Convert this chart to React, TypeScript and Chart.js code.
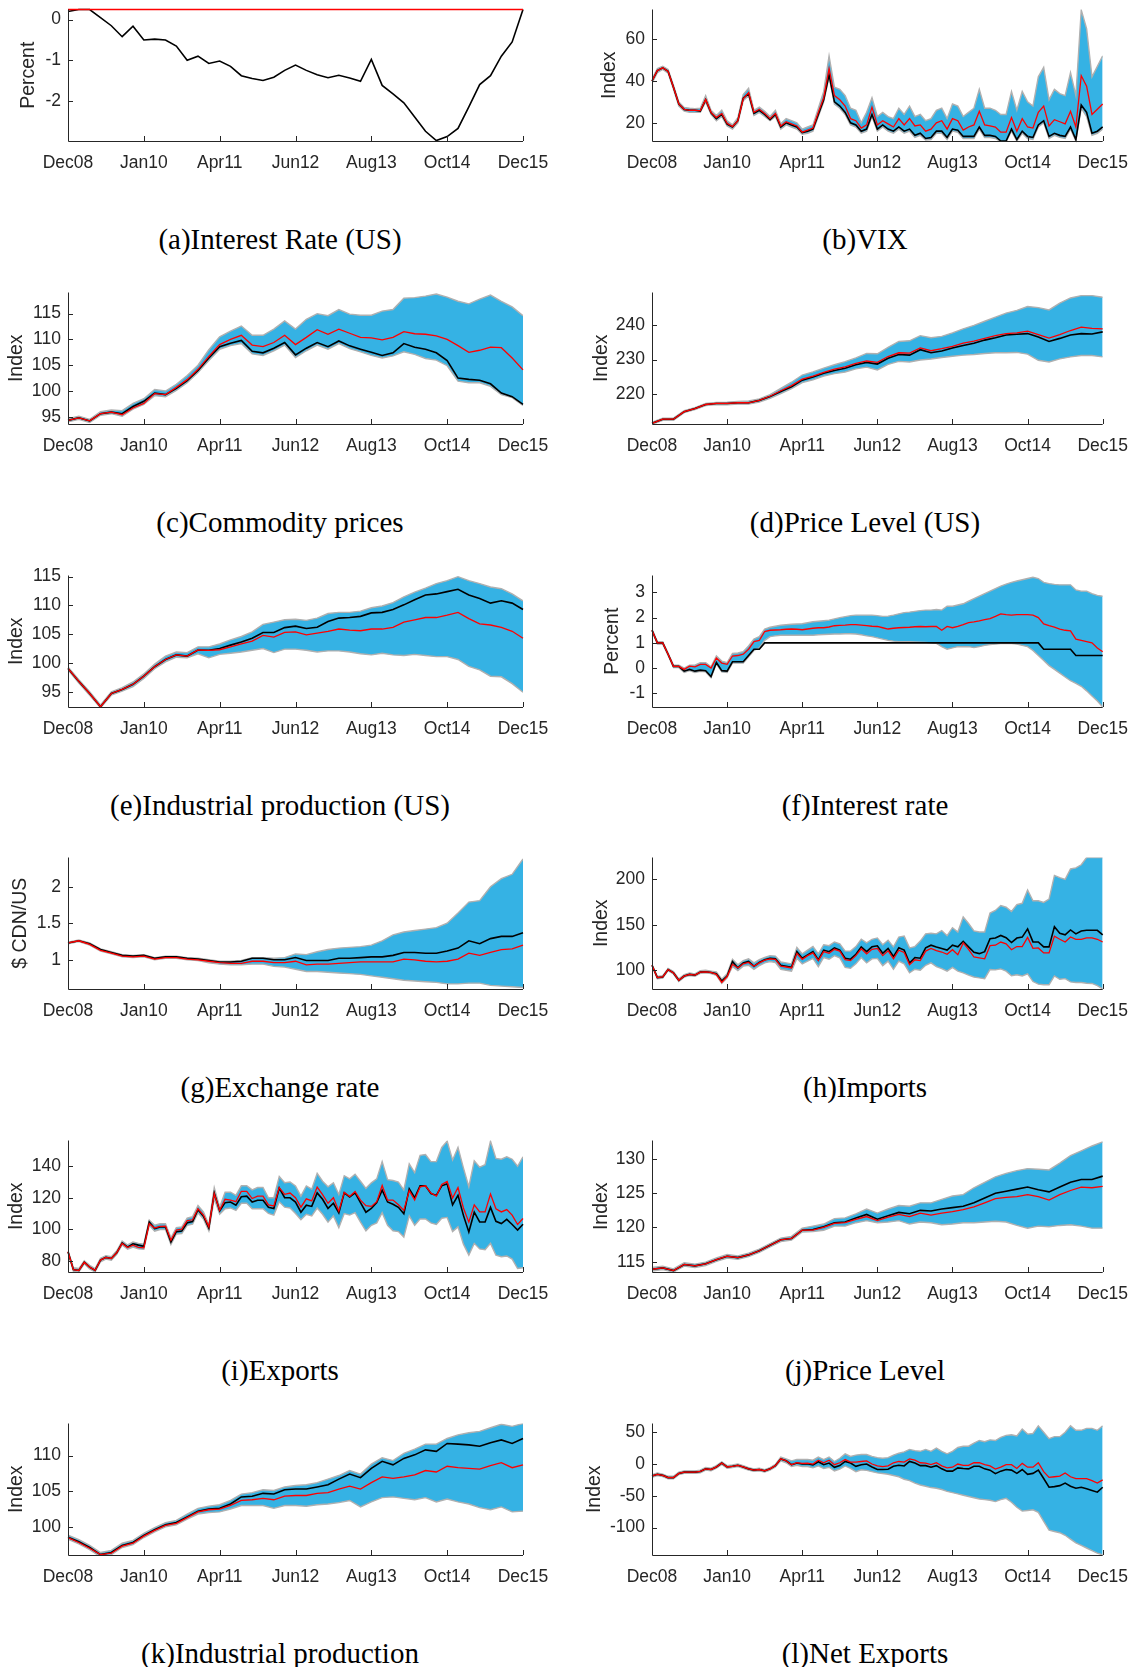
import { useEffect, useRef } from 'react'
import { Chart, registerables } from 'chart.js'

Chart.register(...registerables)

const INK = '#262626'
const BAND = '#35b2e4'
const EDGE = '#b0b0b0'
const SANS = "'Liberation Sans', Arial, Helvetica, sans-serif"

const xTickMonths = [0, 14, 28, 42, 56, 70, 84]
const xTickLabels = ['Dec08', 'Jan10', 'Apr11', 'Jun12', 'Aug13', 'Oct14', 'Dec15']

// (a) Interest Rate (US), every 2 months
const rateUsBlack = [0.2, 0.25, 0.25, 0.05, -0.15, -0.42, -0.16, -0.5, -0.48, -0.5, -0.65, -1.0, -0.9, -1.08, -1.02, -1.15, -1.38, -1.45, -1.5, -1.42, -1.25, -1.12, -1.25, -1.36, -1.43, -1.37, -1.44, -1.52, -0.98, -1.62, -1.83, -2.05, -2.4, -2.75, -2.98, -2.88, -2.68, -2.15, -1.6, -1.38, -0.9, -0.55, 0.25]
const rateUsRed = [0.25, 0.25, 0.25, 0.25, 0.25, 0.25, 0.25, 0.25, 0.25, 0.25, 0.25, 0.25, 0.25, 0.25, 0.25, 0.25, 0.25, 0.25, 0.25, 0.25, 0.25, 0.25, 0.25, 0.25, 0.25, 0.25, 0.25, 0.25, 0.25, 0.25, 0.25, 0.25, 0.25, 0.25, 0.25, 0.25, 0.25, 0.25, 0.25, 0.25, 0.25, 0.25, 0.25]

// (b) VIX, monthly
const vixBlack = [
  40, 45, 46.3, 44.6, 37, 29, 26.4, 26, 26, 25.6,
  31, 24.8, 22, 24, 19.4, 18, 21, 31.8, 34, 24.5,
  26, 24, 21.5, 24, 18, 20, 19, 18, 15.3, 16,
  17, 24, 31, 43, 30, 28, 25, 20, 19, 16,
  17, 24, 17, 19, 17, 16, 18, 16, 17, 14,
  15, 12.5, 13, 16, 16, 13, 17, 16.5, 13.5, 13.5,
  13.5, 18, 14, 14, 13.5, 11.3, 11.3, 17, 12, 16,
  13.5, 13, 19, 21, 13.5, 15, 14, 13.5, 18, 12,
  28.5, 25, 15, 16, 18,
]
const vixRed = [
  40, 45, 46.3, 44.6, 37, 29, 26.4, 26, 26, 25.8,
  31.2, 25, 22.5, 24.5, 19.8, 18.2, 21, 31.5, 34.5, 25,
  26.5, 24.5, 22, 24.5, 18.5, 20.5, 19.5, 18.5, 15.5, 16.5,
  17.5, 25, 32, 46, 33, 31, 28, 22, 21, 17.5,
  19, 27.5, 19, 21, 19.5, 18, 22, 19, 22, 18.5,
  19, 16, 17, 20, 21, 17, 22, 21, 16.5, 18,
  19, 25.5, 19, 18.5, 18, 15.5, 15.5, 22.5, 16, 22,
  18, 17.5, 25, 28, 18.5, 21.5, 20.5, 19.5, 25.5, 18,
  42.5, 37.5, 24, 26.5, 29,
]
const vixHigh = [
  41, 46, 47, 45.5, 38, 30, 27.3, 27, 26.8, 27,
  33, 26, 23.5, 26, 21, 19, 22.5, 33.5, 36.5, 26,
  27.5, 25.5, 23, 26, 19.5, 22, 21, 20, 17, 18,
  19, 27, 35, 52, 37, 36, 33, 27, 26, 20,
  25, 32, 23, 25, 23, 22, 27, 24, 28, 23,
  24, 21, 22, 26, 27, 22, 29, 28, 23, 25,
  27, 36, 27, 27, 26, 24, 24, 35, 26, 35,
  30, 28, 42, 46.5, 31, 36, 34, 33, 44, 33,
  74, 65, 42, 47, 52,
]
const vixLow = [
  39, 44, 45.5, 43.8, 36, 28, 25.6, 25, 25, 25,
  30, 24, 21, 23, 18.5, 17, 20, 30.5, 33, 23.5,
  25, 23, 21, 23, 17, 19, 18, 17, 14.5, 15,
  16, 23, 30, 42, 29, 27, 24, 19, 18, 15,
  16, 23, 16, 18, 16, 15, 17, 15, 16, 13,
  14, 11.8, 12, 15, 15, 12, 16, 15.5, 12.5, 12.5,
  12.5, 17, 13, 13, 12.5, 11, 11, 16, 11.3, 15,
  12.5, 12, 18, 20, 12.5, 14, 13, 12.5, 17, 11.3,
  27, 23, 14, 15, 17,
]

// (c) Commodity prices, every 2 months
const commBlack = [94.3, 94.8, 94.2, 95.6, 95.9, 95.6, 97, 98, 99.6, 99.3, 100.5, 102, 104, 106.4, 108.6, 109.25, 109.8, 107.7, 107.4, 108.3, 109.4, 107, 108.3, 109.4, 108.6, 109.7, 108.75, 108.1, 107.5, 106.9, 107.4, 109.2, 108.5, 108.1, 107.4, 105.9, 102.5, 102.25, 102.1, 101.4, 99.6, 98.9, 97.4]
const commRed = [94.3, 94.8, 94.2, 95.6, 95.9, 95.4, 96.7, 97.6, 99.5, 99.3, 100.7, 102.2, 104.2, 106.7, 109, 110, 110.8, 108.9, 108.6, 109.4, 110.8, 109, 110.4, 111.9, 111, 112, 111.2, 110.4, 110.3, 109.9, 110.4, 111.5, 111.1, 111, 110.7, 110, 108.8, 107.5, 107.9, 108.5, 108.4, 106.4, 104.1]
const commHigh = [94.6, 95.1, 94.5, 96, 96.3, 96.2, 97.6, 98.5, 100.3, 100, 101.3, 103, 105, 108, 110.5, 111.6, 112.6, 110.8, 110.8, 112, 113.6, 112, 113.9, 115, 114.6, 115.8, 114.9, 114.7, 114.7, 115.5, 115.8, 118, 118.1, 118.4, 118.8, 118.2, 117.4, 116.9, 117.8, 118.6, 117.4, 116.3, 114.6]
const commLow = [94, 94.5, 93.9, 95.3, 95.6, 95.1, 96.5, 97.4, 99.1, 98.9, 100.1, 101.6, 103.6, 105.9, 108.1, 108.8, 109.2, 107.2, 106.9, 107.8, 108.9, 106.5, 107.8, 108.9, 108.1, 109.2, 108.2, 107.6, 106.9, 106.4, 106.8, 107.6, 107.1, 106.3, 106, 104.9, 101.9, 101.6, 101.6, 100.9, 99.3, 98.7, 97.2]

// (d) Price Level (US), every 2 months
const cpiUsBlack = [211.4, 212.6, 212.6, 214.8, 215.7, 216.9, 217.2, 217.2, 217.4, 217.4, 218.1, 219.2, 220.7, 222.1, 224, 224.9, 226, 226.8, 227.5, 228.5, 229.2, 228.7, 230.4, 231.5, 231.3, 232.9, 232, 232.5, 233.4, 234.1, 234.8, 235.7, 236.4, 237.2, 237.4, 237.6, 236.6, 235.3, 236.2, 237.2, 237.6, 237.5, 238.1]
const cpiUsRed = [211.4, 212.6, 212.6, 214.8, 215.7, 216.9, 217.2, 217.2, 217.4, 217.4, 218.1, 219.3, 220.9, 222.4, 224.3, 225.2, 226.3, 227.2, 227.9, 228.9, 229.6, 229.2, 230.9, 232, 231.9, 233.4, 232.6, 233.2, 233.9, 234.8, 235.4, 236.2, 237, 237.6, 237.8, 238.3, 237.3, 236.3, 237.3, 238.5, 239.5, 239.1, 239]
const cpiUsHigh = [211.7, 212.9, 212.9, 215.1, 216, 217.2, 217.5, 217.6, 217.8, 217.9, 218.5, 219.8, 221.6, 223.4, 225.5, 226.4, 227.5, 228.5, 229.4, 230.5, 231.8, 231.7, 233.6, 235.3, 235.5, 237, 236.4, 236.8, 237.8, 239, 240, 241.2, 242.4, 243.6, 244.4, 245.5, 245.2, 244.5, 246.5, 248, 248.7, 248.7, 248.2]
const cpiUsLow = [211.1, 212.3, 212.3, 214.5, 215.4, 216.6, 216.9, 216.8, 217, 217, 217.6, 218.7, 220.1, 221.5, 223.3, 224.1, 225.2, 225.9, 226.4, 227.3, 227.8, 227, 228.6, 229.5, 229.3, 229.9, 230.2, 230.6, 231, 231.3, 231.5, 231.8, 232, 232, 232.1, 231.6, 229.8, 229.3, 230.2, 230.8, 231.2, 231.2, 230.8]

// (e) Industrial production (US), every 2 months
const ipUsBlack = [99.05, 96.8, 94.7, 92.4, 94.7, 95.4, 96.3, 97.7, 99.35, 100.6, 101.4, 101.2, 102.25, 102.2, 102.5, 103.1, 103.65, 104.3, 105.3, 105.3, 106.15, 106.4, 106, 106.2, 107.2, 107.8, 107.9, 108.1, 108.7, 108.8, 109.3, 110.1, 111, 111.8, 112, 112.4, 112.8, 111.8, 111.2, 110.4, 110.8, 110.4, 109.3]
const ipUsRed = [99.05, 96.8, 94.7, 92.4, 94.7, 95.4, 96.3, 97.7, 99.35, 100.6, 101.4, 101.2, 102.25, 102.2, 102.3, 102.8, 103.3, 103.8, 104.8, 104.5, 105.3, 105.4, 104.9, 105.2, 105.5, 105.9, 105.7, 105.6, 105.9, 105.9, 106.2, 107.1, 107.5, 107.9, 107.9, 108.3, 108.8, 107.7, 106.8, 106.6, 106.2, 105.5, 104.3]
const ipUsHigh = [99.3, 97.1, 95, 92.7, 95, 95.7, 96.7, 98.1, 99.8, 101.2, 101.9, 101.8, 102.8, 102.8, 103.3, 104, 104.6, 105.4, 106.7, 107.1, 107.5, 107.6, 107.4, 107.8, 108.6, 108.8, 108.8, 109, 109.6, 109.9, 110.5, 111.5, 112.3, 113, 113.8, 114.3, 115, 114.3, 113.8, 113.2, 112.9, 112, 110.8]
const ipUsLow = [98.8, 96.5, 94.4, 92.2, 94.4, 95.1, 95.9, 97.3, 99, 100.2, 101, 100.9, 101.6, 100.9, 101.5, 101.7, 101.9, 102.2, 102.5, 101.8, 102.4, 102.4, 102.2, 101.9, 102.1, 102.1, 101.9, 101.6, 101.4, 101.7, 101.4, 101.3, 101.5, 101.3, 101.1, 101.1, 100.6, 99.4, 98.8, 97.7, 97.6, 96.4, 94.9]

// (f) Interest rate, monthly
const rateCaBlack = [
  1.5, 1, 1, 0.55, 0.07, 0.07, -0.12, -0.05, -0.12, -0.08,
  -0.1, -0.33, 0.22, -0.1, -0.12, 0.25, 0.25, 0.25, 0.5, 0.75,
  0.75, 1, 1, 1, 1, 1, 1, 1, 1, 1,
  1, 1, 1, 1, 1, 1, 1, 1, 1, 1,
  1, 1, 1, 1, 1, 1, 1, 1, 1, 1,
  1, 1, 1, 1, 1, 1, 1, 1, 1, 1,
  1, 1, 1, 1, 1, 1, 1, 1, 1, 1,
  1, 1, 1, 0.75, 0.75, 0.75, 0.75, 0.75, 0.75, 0.5,
  0.5, 0.5, 0.5, 0.5, 0.5,
]
const rateCaRed = [
  1.5, 1, 1, 0.55, 0.07, 0.07, -0.05, 0.08, 0.05, 0.15,
  0.15, 0, 0.4, 0.2, 0.15, 0.48, 0.5, 0.55, 0.75, 1.05,
  1.1, 1.45, 1.5, 1.51, 1.52, 1.54, 1.55, 1.54, 1.52, 1.55,
  1.58, 1.6, 1.6, 1.63, 1.68, 1.69, 1.7, 1.72, 1.72, 1.7,
  1.68, 1.66, 1.65, 1.6, 1.55, 1.58, 1.6, 1.61, 1.62, 1.64,
  1.65, 1.64, 1.65, 1.65, 1.5, 1.65, 1.6, 1.65, 1.72, 1.8,
  1.83, 1.87, 1.92, 1.96, 2.05, 2.15, 2.12, 2.1, 2.12, 2.12,
  2.12, 2.1, 2, 1.75, 1.68, 1.62, 1.55, 1.5, 1.48, 1.15,
  1.1, 1.05, 1, 0.8, 0.65,
]
const rateCaHigh = [
  1.55, 1.05, 1.05, 0.6, 0.12, 0.12, 0, 0.12, 0.12, 0.22,
  0.22, 0.05, 0.48, 0.28, 0.22, 0.58, 0.6, 0.65, 0.88, 1.15,
  1.25, 1.55, 1.62, 1.66, 1.7, 1.72, 1.74, 1.75, 1.76, 1.8,
  1.84, 1.86, 1.88, 1.9, 1.95, 2, 2.04, 2.08, 2.1, 2.1,
  2.1, 2.1, 2.08, 2.05, 2.06, 2.1, 2.15, 2.2, 2.22, 2.25,
  2.28, 2.3, 2.3, 2.32, 2.3, 2.45, 2.45, 2.5, 2.55, 2.65,
  2.75, 2.85, 2.95, 3.05, 3.15, 3.25, 3.33, 3.4, 3.45, 3.5,
  3.55, 3.6, 3.55, 3.4, 3.35, 3.32, 3.3, 3.3, 3.3, 3.1,
  3.05, 3.05, 2.95, 2.88, 2.85,
]
const rateCaLow = [
  1.45, 0.95, 0.95, 0.5, 0.02, 0.02, -0.17, -0.1, -0.17, -0.13,
  -0.15, -0.38, 0.17, -0.15, -0.17, 0.2, 0.2, 0.2, 0.45, 0.7,
  0.8, 1.1, 1.25, 1.28, 1.3, 1.3, 1.3, 1.3, 1.3, 1.3,
  1.3, 1.32, 1.33, 1.34, 1.35, 1.35, 1.36, 1.36, 1.35, 1.32,
  1.28, 1.25, 1.2, 1.15, 1.1, 1.07, 1.05, 1.05, 1.05, 1.04,
  1.03, 1.02, 1, 0.98, 0.85, 0.75, 0.8, 0.85, 0.85, 0.85,
  0.82, 0.85, 0.9, 0.93, 0.95, 0.97, 0.98, 0.97, 0.95, 0.9,
  0.85, 0.7, 0.5, 0.3, 0.1, -0.05, -0.2, -0.35, -0.5, -0.6,
  -0.72, -0.9, -1.1, -1.3, -1.54,
]

// (g) Exchange rate, every 2 months
const fxBlack = [1.23, 1.26, 1.22, 1.14, 1.1, 1.06, 1.05, 1.06, 1.02, 1.04, 1.04, 1.02, 1.01, 0.99, 0.97, 0.97, 0.98, 1.02, 1.02, 1, 1, 1.03, 0.99, 0.99, 0.99, 1.02, 1.02, 1.03, 1.04, 1.04, 1.06, 1.1, 1.1, 1.09, 1.09, 1.12, 1.16, 1.26, 1.22, 1.29, 1.32, 1.32, 1.37]
const fxRed = [1.23, 1.26, 1.21, 1.13, 1.09, 1.05, 1.04, 1.05, 1.01, 1.03, 1.03, 1.01, 1, 0.98, 0.96, 0.95, 0.95, 0.98, 0.98, 0.96, 0.96, 0.98, 0.93, 0.94, 0.94, 0.95, 0.96, 0.97, 0.97, 0.97, 0.97, 1.01, 1, 0.98, 0.97, 0.98, 1.01, 1.09, 1.06, 1.1, 1.14, 1.15, 1.2]
const fxHigh = [1.24, 1.27, 1.23, 1.15, 1.11, 1.07, 1.06, 1.07, 1.03, 1.05, 1.05, 1.03, 1.02, 1, 0.98, 0.98, 0.99, 1.03, 1.03, 1.02, 1.03, 1.08, 1.07, 1.11, 1.14, 1.16, 1.17, 1.18, 1.2, 1.26, 1.34, 1.38, 1.4, 1.42, 1.44, 1.5, 1.64, 1.79, 1.81, 2, 2.11, 2.17, 2.38]
const fxLow = [1.22, 1.25, 1.2, 1.12, 1.08, 1.04, 1.03, 1.04, 1, 1.02, 1.02, 1, 0.99, 0.96, 0.94, 0.93, 0.93, 0.94, 0.94, 0.91, 0.9, 0.87, 0.84, 0.84, 0.83, 0.82, 0.81, 0.8, 0.78, 0.76, 0.74, 0.72, 0.71, 0.7, 0.69, 0.67, 0.67, 0.68, 0.68, 0.65, 0.64, 0.63, 0.62]

// (h) Imports, monthly
const importsBlack = [
  105.4, 91.8, 92.5, 100.7, 97, 88.9, 93.6, 95.4, 94.6, 97.9,
  98.2, 97.5, 96, 88, 93.6, 109.6, 102.5, 107.9, 109.6, 104.3,
  108.6, 111.4, 113.2, 112.5, 105.4, 104.3, 103.2, 120.4, 113.2, 116.8,
  120.4, 111.4, 122.1, 120.4, 124.6, 122.1, 113.2, 112.1, 117.5, 125.7,
  120.4, 125.7, 126.8, 118.6, 123.9, 115, 124.6, 122.1, 107.9, 113.9,
  113.2, 124.6, 127.5, 125.4, 123.9, 122.1, 127.5, 125.7, 131.8, 125.7,
  119.6, 118.2, 120.4, 134.6, 135.4, 138.2, 135.7, 130.4, 135.4, 136.4,
  145.4, 131.1, 131.1, 125.7, 125.7, 147.9, 140.7, 138.9, 144.3, 140,
  143.2, 143.9, 143.9, 143.9, 138.9,
]
const importsRed = [
  105.4, 91.8, 92.5, 100.7, 97, 88.9, 93.6, 95.4, 94.6, 97.9,
  98.2, 97.5, 95.5, 86.5, 93, 106.5, 102.5, 107, 108.5, 104.3,
  108, 111, 112.5, 112, 104.5, 103.5, 102.5, 118.5, 112, 116,
  119, 110.5, 120.5, 118.5, 123, 121, 111.5, 110.5, 116, 123.5,
  118, 123, 124, 116, 121.5, 112.5, 122, 119.5, 106, 111.5,
  110.5, 121, 124, 121.5, 120, 117.5, 122.5, 117, 130, 123,
  114.5, 113.5, 112.5, 127, 127.5, 131, 129, 122.5, 126, 126,
  136, 124, 124.5, 119, 119, 137.5, 134, 131, 136.5, 134,
  134, 135.5, 135.5, 134, 131,
]
const importsHigh = [
  106.5, 93, 94, 102, 98.5, 90.5, 95, 97, 96, 99.5,
  100, 99, 98, 90, 96, 112, 106, 110.5, 112.5, 108,
  111.5, 114, 116, 115.5, 109, 108, 107, 125, 118, 122,
  126, 118, 128, 127, 131, 129, 121, 121, 126, 134,
  130, 134, 135.5, 128, 133, 125.7, 136.4, 137.5, 124.6, 126,
  132, 140, 140.7, 140, 143.6, 138, 146.8, 142, 158.6, 151.4,
  143.2, 142, 142, 162.9, 165.7, 171.1, 169.3, 164.6, 172.1, 173.6,
  188.2, 176.4, 176.4, 174.6, 178.2, 204.3, 201.8, 200, 211.4, 212.5,
  216, 224, 224, 224, 224,
]
const importsLow = [
  104.3, 90.7, 91.2, 99.5, 95.8, 87.5, 92.3, 94, 93.3, 96.5,
  97, 96.2, 94.3, 85.5, 91.5, 104, 99.5, 104.5, 105.5, 101,
  105, 108, 109.5, 108.5, 101, 100, 99, 113, 107, 110,
  113, 104, 114, 112, 116, 113.5, 103, 102, 107, 114,
  108, 112.5, 113, 105, 110, 101, 110, 107, 97.1, 101,
  100, 105.4, 108, 104, 101.8, 99, 103, 99, 97, 94.6,
  92.5, 91.5, 90.7, 100.7, 100.3, 101.4, 98.9, 93.9, 95, 93.6,
  96, 87.5, 84.6, 84, 83.9, 93.6, 90, 90.7, 87.1, 86.4,
  86.4, 85.7, 85.4, 82.9, 79.3,
]

// (i) Exports, monthly
const exportsBlack = [
  85.7, 74.3, 73.8, 79, 75.9, 73.8, 80.4, 82.1, 81.4, 85.1,
  91.3, 88.6, 90.7, 89.9, 89.2, 104.6, 100.4, 101.4, 101.4, 91.8,
  98.4, 98.8, 104.1, 104.9, 112.4, 108.3, 100.8, 123, 111.7, 116.9,
  117.3, 115.3, 120.6, 121, 117.3, 118.4, 118.4, 113.9, 113.2, 126.2,
  120, 120, 117.3, 110.8, 115.3, 114.5, 123.1, 119, 113.2, 116.5,
  110.4, 123.1, 120.5, 123.1, 116.9, 110.8, 113.2, 116.9, 124.8, 117.3,
  115.9, 113.9, 109.8, 125.6, 120, 127.6, 127.6, 122.7, 121.5, 127.6,
  128.9, 115.5, 121.5, 108.8, 98.2, 110.8, 104.6, 104.6, 113.9, 105,
  103.6, 106.3, 103, 99.5, 103.2,
]
const exportsRed = [
  85.7, 74.3, 73.8, 79, 75.9, 73.8, 80.4, 82.1, 81.4, 85.1,
  91, 88.3, 89.8, 88.5, 88.2, 103.5, 100.8, 101.8, 102, 93,
  99.5, 100, 105.5, 106, 113, 109, 101.5, 122.5, 112, 119,
  118.5, 117.5, 124.1, 124, 119.5, 121, 121, 115.5, 114.8, 126.5,
  122.2, 123, 120, 114, 119.3, 118, 126.8, 122, 116.5, 120,
  111.5, 123.5, 120.8, 124, 118.5, 115, 114.5, 117.5, 127.8, 118.5,
  118.5, 115.5, 112, 124.5, 118.5, 127, 127.6, 123, 121, 128.5,
  130.3, 119.8, 126.5, 113.5, 104.5, 115.5, 111, 111, 122.3, 113,
  111, 112.5, 109, 103, 106.8,
]
const exportsHigh = [
  86.5, 75.5, 75, 80, 77, 75, 81.5, 83.2, 82.5, 86.3,
  92.5, 90, 91.8, 91, 90.5, 105.8, 102.5, 103.5, 103.5, 94.5,
  101, 101.5, 107, 108, 115, 111, 103, 126.5, 114, 123.5,
  123.5, 121.5, 127.6, 127.6, 125, 126.5, 126.5, 120, 120, 133.5,
  129.5, 130, 127.5, 121, 127.5, 125.5, 135.5, 130.5, 127, 129.5,
  122, 134, 132, 135, 130.5, 126, 129.5, 132, 143, 131.5,
  131, 130, 125, 141.5, 136, 147, 147.5, 143, 143, 152,
  156, 144, 152, 139, 127, 143.5, 139.5, 141, 156, 145,
  144.5, 146, 144.5, 140, 146,
]
const exportsLow = [
  84.8, 73.2, 72.8, 78, 74.8, 72.8, 79.3, 81, 80.3, 84,
  90, 87.3, 88.7, 87.5, 87.2, 102.5, 98.8, 99.8, 99.8, 90.3,
  97, 97.3, 102.5, 103.2, 110.5, 106.5, 99, 119.5, 109.5, 113,
  113.5, 112, 116.5, 116.5, 113, 113, 113, 110, 109, 117.5,
  114, 113.5, 110, 106, 109.5, 108.5, 113.5, 109.5, 104.5, 108.5,
  101, 110, 109, 110.5, 104.5, 99, 102.5, 104, 110.5, 102.5,
  99, 98.5, 95, 108.5, 102.5, 106.5, 106.5, 104, 103, 107,
  107.5, 98.5, 101.5, 90.5, 83.5, 91, 87.5, 87, 91, 83.5,
  82.5, 83, 81, 75, 75.5,
]

// (j) Price Level, every 2 months
const cpiCaBlack = [113.9, 114.1, 113.7, 114.6, 114.4, 114.7, 115.3, 115.8, 115.6, 116, 116.6, 117.4, 118.2, 118.4, 119.6, 119.7, 120.1, 120.7, 120.8, 121.4, 121.9, 121.2, 121.7, 122.2, 122, 122.5, 122.4, 122.7, 122.9, 123.1, 123.6, 124.3, 125, 125.3, 125.6, 125.9, 125.5, 125.2, 125.9, 126.6, 127, 127, 127.5]
const cpiCaRed = [113.9, 114.1, 113.7, 114.6, 114.4, 114.7, 115.3, 115.8, 115.6, 116, 116.6, 117.4, 118.2, 118.4, 119.6, 119.6, 120, 120.6, 120.7, 121.2, 121.6, 121, 121.5, 121.9, 121.6, 122.1, 121.8, 122.1, 122.3, 122.6, 123, 123.6, 124.2, 124.4, 124.5, 124.8, 124.5, 124, 124.8, 125.4, 125.9, 125.8, 126]
const cpiCaHigh = [114.15, 114.35, 113.95, 114.85, 114.65, 114.95, 115.55, 116.05, 115.85, 116.25, 116.85, 117.65, 118.45, 118.7, 119.9, 120.2, 120.5, 121.3, 121.4, 122, 122.7, 122.1, 122.7, 123.2, 123.1, 123.6, 123.6, 124.1, 124.6, 124.8, 125.8, 126.6, 127.4, 127.9, 128.3, 128.6, 128.5, 128.4, 129.4, 130.5, 131.2, 131.9, 132.5]
const cpiCaLow = [113.65, 113.85, 113.5, 114.35, 114.15, 114.45, 115.05, 115.55, 115.35, 115.75, 116.35, 117.15, 117.95, 118.15, 119.35, 119.4, 119.6, 120.2, 120.2, 120.7, 121, 120.7, 120.8, 121, 120.5, 120.8, 120.7, 120.4, 120.5, 120.7, 120.7, 120.8, 120.9, 120.8, 120.3, 119.9, 120.2, 120.1, 120.3, 120.4, 120.2, 119.9, 119.9]

// (k) Industrial production, every 2 months
const ipCaBlack = [98.55, 97.9, 97.1, 96.1, 96.4, 97.4, 97.8, 98.8, 99.6, 100.3, 100.6, 101.4, 102.2, 102.5, 102.6, 103.2, 104.2, 104.3, 104.7, 104.6, 105.2, 105.3, 105.3, 105.6, 105.9, 106.7, 107.4, 106.9, 108.2, 109.2, 108.7, 109.6, 110.1, 110.8, 110.6, 111.7, 111.6, 111.5, 111.3, 111.8, 112.2, 111.7, 112.4]
const ipCaRed = [98.5, 97.8, 97, 96.1, 96.3, 97.3, 97.7, 98.7, 99.5, 100.2, 100.5, 101.3, 102.1, 102.4, 102.5, 103, 103.7, 103.8, 104, 103.8, 104.3, 104.4, 104.4, 104.7, 104.8, 105.3, 105.7, 105.3, 106.2, 107, 106.8, 107, 107.3, 107.9, 107.7, 108.5, 108.3, 108.2, 108.1, 108.6, 109, 108.3, 108.7]
const ipCaHigh = [98.85, 98.2, 97.4, 96.4, 96.7, 97.7, 98.1, 99.1, 99.9, 100.6, 100.9, 101.8, 102.6, 102.9, 103.1, 103.7, 104.6, 104.8, 105.2, 105.1, 105.6, 105.8, 105.9, 106.2, 106.7, 107.2, 107.9, 107.4, 108.8, 109.7, 109.3, 110.3, 110.9, 111.6, 111.6, 112.4, 112.9, 113.2, 113.4, 113.9, 114.4, 114.1, 114.5]
const ipCaLow = [98.25, 97.6, 96.8, 95.8, 96.1, 97.1, 97.5, 98.5, 99.3, 100, 100.3, 101.1, 101.8, 102, 102.1, 102.5, 103, 103, 103, 102.6, 103, 103, 102.9, 103.1, 103.2, 103.4, 103.7, 102.8, 103.5, 104.1, 104.2, 104, 103.8, 104.1, 103.5, 103.9, 103.5, 103.2, 102.7, 102.4, 102.8, 102.1, 102.2]

// (l) Net Exports, monthly
const netExpBlack = [
  -18.8, -16.2, -17.8, -21.3, -21.3, -14.7, -12.7, -12.7, -12.7, -11.7,
  -7.6, -8.6, -4.6, 1.5, -4.6, -3.6, -2, -4.6, -7.6, -9.6,
  -8.6, -10.7, -7.6, -2.5, 8.1, 5.1, -1, 1.5, 0, 0.5,
  -1.5, 3.6, -1, 1.5, -5.1, -2.5, 4.1, 1.5, -3.6, -1,
  0, -4.6, -8.6, -8.6, -8.1, -3.6, -2, -3, 4.1, 1.5,
  -2.5, -2.5, -5.1, -2.5, -7.6, -11.2, -11.2, -6.1, -7.1, -7.6,
  -3.6, -3.6, -7.6, -9.6, -15.2, -11.2, -8.6, -9.6, -14.7, -8.6,
  -16.2, -14.7, -9.6, -22.8, -36.5, -35.5, -34, -29.9, -35, -38,
  -36.5, -39, -41.6, -44.2, -36.5,
]
const netExpRed = [
  -18.8, -16.2, -17.8, -21.3, -21.3, -14.7, -12.7, -12.7, -12.7, -11.7,
  -7.6, -8.6, -4.6, 1.5, -4.6, -3.6, -2, -4.6, -7.6, -9.6,
  -8.6, -10.7, -7.6, -2.5, 8.1, 5.1, -1, 2, 1, 1.5,
  0, 6, 2, 6, -1, 2, 7, 3, 3, 4,
  5, 0, -3, -4, -3, 2, 4, 3, 8, 6,
  2, 1.5, -1, 2, -3, -6, -5, 0, -2, -2,
  2, 2, -1, -3, -8, -5, -1, -1, -7, 1,
  -5, -5, 2, -12, -21, -20, -19, -14, -20, -23,
  -23, -23, -26, -30, -25,
]
const netExpHigh = [
  -17, -14.2, -15.8, -19.3, -19.3, -12.7, -10.7, -10.7, -10.7, -9.7,
  -5.6, -6.6, -2.6, 3.5, -2.6, -1.6, 0, -2.6, -5.6, -7.6,
  -6.6, -8.7, -5.6, -0.5, 11, 8, 5, 7, 7, 7,
  6, 11, 7, 11, 4, 9, 16, 12, 14, 15,
  15, 12, 10, 9, 10, 14, 17, 19, 23, 21,
  20, 23, 20, 25, 20, 16, 20, 26, 28, 28,
  33, 37, 35, 38, 37, 42, 45, 46, 44, 55,
  47, 48, 60, 50, 40, 43, 43, 50, 60, 53,
  53, 56, 56, 53, 60,
]
const netExpLow = [
  -20.8, -18.2, -19.8, -23.3, -23.3, -16.7, -14.7, -14.7, -14.7, -13.7,
  -9.6, -10.6, -6.6, -0.5, -6.6, -5.6, -4, -6.6, -9.6, -11.6,
  -10.6, -12.7, -9.6, -4.5, 5, 2, -4, -2, -4, -4,
  -6, -3, -7, -5, -11, -8, -3, -7, -12, -9,
  -10, -12, -14, -15, -16, -18, -20, -24, -26, -30,
  -33, -35, -37, -38, -40, -43, -45, -47, -49, -51,
  -53, -55, -56, -57, -59, -56, -54, -60, -68, -74,
  -73, -72, -76, -90, -104, -106, -108, -112, -118, -124,
  -128, -132, -136, -140, -143,
]

type Panel = {
  caption: string
  yTitle: string
  titleX: number
  yMin: number
  yMax: number
  yTicks: number[]
  step: number
  black: number[]
  red: number[]
  high?: number[]
  low?: number[]
}

const panels: Panel[] = [
  { caption: '(a)Interest Rate (US)', yTitle: 'Percent', titleX: 29, yMin: -2.99, yMax: 0.25, yTicks: [-2, -1, 0], step: 2, black: rateUsBlack, red: rateUsRed },
  { caption: '(b)VIX', yTitle: 'Index', titleX: 40, yMin: 11.3, yMax: 74.2, yTicks: [20, 40, 60], step: 1, black: vixBlack, red: vixRed, high: vixHigh, low: vixLow },
  { caption: '(c)Commodity prices', yTitle: 'Index', titleX: 17, yMin: 93.6, yMax: 119.1, yTicks: [95, 100, 105, 110, 115], step: 2, black: commBlack, red: commRed, high: commHigh, low: commLow },
  { caption: '(d)Price Level (US)', yTitle: 'Index', titleX: 32, yMin: 211.2, yMax: 249.6, yTicks: [220, 230, 240], step: 2, black: cpiUsBlack, red: cpiUsRed, high: cpiUsHigh, low: cpiUsLow },
  { caption: '(e)Industrial production (US)', yTitle: 'Index', titleX: 17, yMin: 92.35, yMax: 115.2, yTicks: [95, 100, 105, 110, 115], step: 2, black: ipUsBlack, red: ipUsRed, high: ipUsHigh, low: ipUsLow },
  { caption: '(f)Interest rate', yTitle: 'Percent', titleX: 43, yMin: -1.54, yMax: 3.67, yTicks: [-1, 0, 1, 2, 3], step: 1, black: rateCaBlack, red: rateCaRed, high: rateCaHigh, low: rateCaLow },
  { caption: '(g)Exchange rate', yTitle: '$ CDN/US', titleX: 21, yMin: 0.6, yMax: 2.4, yTicks: [1, 1.5, 2], step: 2, black: fxBlack, red: fxRed, high: fxHigh, low: fxLow },
  { caption: '(h)Imports', yTitle: 'Index', titleX: 32, yMin: 79.3, yMax: 224, yTicks: [100, 150, 200], step: 1, black: importsBlack, red: importsRed, high: importsHigh, low: importsLow },
  { caption: '(i)Exports', yTitle: 'Index', titleX: 17, yMin: 72.8, yMax: 156.4, yTicks: [80, 100, 120, 140], step: 1, black: exportsBlack, red: exportsRed, high: exportsHigh, low: exportsLow },
  { caption: '(j)Price Level', yTitle: 'Index', titleX: 32, yMin: 113.5, yMax: 132.7, yTicks: [115, 120, 125, 130], step: 2, black: cpiCaBlack, red: cpiCaRed, high: cpiCaHigh, low: cpiCaLow },
  { caption: '(k)Industrial production', yTitle: 'Index', titleX: 17, yMin: 96.05, yMax: 114.5, yTicks: [100, 105, 110], step: 2, black: ipCaBlack, red: ipCaRed, high: ipCaHigh, low: ipCaLow },
  { caption: '(l)Net Exports', yTitle: 'Index', titleX: 25, yMin: -143, yMax: 63.7, yTicks: [-100, -50, 0, 50], step: 1, black: netExpBlack, red: netExpRed, high: netExpHigh, low: netExpLow },
]

// MATLAB-like axes: only left and bottom lines, ticks pointing inward
const matlabAxes = {
  id: 'matlabAxes',
  afterDraw(chart: any) {
    const { ctx, chartArea: a } = chart
    const xs = chart.scales.x
    const ys = chart.scales.y
    ctx.save()
    ctx.strokeStyle = INK
    ctx.lineWidth = 1
    ctx.beginPath()
    ctx.moveTo(a.left + 0.5, a.top)
    ctx.lineTo(a.left + 0.5, a.bottom + 0.5)
    ctx.lineTo(a.right, a.bottom + 0.5)
    for (const t of xs.ticks) {
      const px = Math.round(xs.getPixelForValue(t.value)) + 0.5
      ctx.moveTo(px, a.bottom)
      ctx.lineTo(px, a.bottom - 5)
    }
    for (const t of ys.ticks) {
      const py = Math.round(ys.getPixelForValue(t.value)) + 0.5
      ctx.moveTo(a.left, py)
      ctx.lineTo(a.left + 5, py)
    }
    ctx.stroke()
    ctx.restore()
  },
}

const CW = 570
const CH = 189
const TOP_PAD = 14
const ROW = 282.8

function PanelChart({ p, row, col }: { p: Panel; row: number; col: number }) {
  const ref = useRef<HTMLCanvasElement>(null)
  const inst = useRef<Chart | null>(null)

  useEffect(() => {
    if (!ref.current) return
    if (inst.current) inst.current.destroy()
    const pts = (vals: number[]) => vals.map((v, i) => ({ x: i * p.step, y: v }))
    const datasets: any[] = [
      { data: pts(p.red), borderColor: '#ff0000', borderWidth: 1.3, pointRadius: 0, fill: false, clip: 3 },
      { data: pts(p.black), borderColor: '#000000', borderWidth: 1.6, pointRadius: 0, fill: false, clip: 3 },
    ]
    if (p.high && p.low) {
      datasets.push({ data: pts(p.high), borderColor: EDGE, borderWidth: 1.4, pointRadius: 0, backgroundColor: BAND, fill: '+1' })
      datasets.push({ data: pts(p.low), borderColor: EDGE, borderWidth: 1.4, pointRadius: 0, fill: false })
    }
    const yWidth = col === 0 ? 68 : 82
    const rightPad = col === 0 ? 47 : 34
    inst.current = new Chart(ref.current, {
      type: 'line',
      data: { datasets },
      plugins: [matlabAxes],
      options: {
        responsive: false,
        animation: false,
        layout: { padding: { top: TOP_PAD, left: 0, right: rightPad, bottom: 0 } },
        plugins: {
          legend: { display: false },
          tooltip: { enabled: false },
          filler: { drawTime: 'beforeDatasetsDraw' },
        },
        elements: { line: { tension: 0 } },
        scales: {
          x: {
            type: 'linear',
            min: 0,
            max: 84,
            grid: { display: false, drawTicks: false },
            border: { display: false },
            afterBuildTicks: (s: any) => { s.ticks = xTickMonths.map((v) => ({ value: v })) },
            afterFit: (s: any) => { s.height = 40 },
            ticks: {
              autoSkip: false,
              maxRotation: 0,
              padding: 12,
              color: INK,
              font: { family: SANS, size: 17.5 },
              callback: (v: any) => xTickLabels[xTickMonths.indexOf(Number(v))],
            },
          },
          y: {
            type: 'linear',
            min: p.yMin,
            max: p.yMax,
            grid: { display: false, drawTicks: false },
            border: { display: false },
            afterBuildTicks: (s: any) => { s.ticks = p.yTicks.map((v) => ({ value: v })) },
            afterFit: (s: any) => { s.width = yWidth },
            ticks: {
              padding: 7,
              color: INK,
              font: { family: SANS, size: 17.5 },
              callback: (v: any) => String(v),
            },
            title: {
              display: true,
              text: p.yTitle,
              color: INK,
              font: { family: SANS, size: 19.5 },
              padding: { top: p.titleX - 11.7, bottom: 0 },
            },
          },
        },
      },
    } as any)
    return () => inst.current?.destroy()
  }, [p, col])

  const plotTop = 6 + row * ROW
  return (
    <>
      <canvas
        ref={ref}
        width={CW}
        height={CH}
        style={{ position: 'absolute', left: col * CW, top: plotTop - TOP_PAD, width: CW, height: CH }}
      />
      <div
        style={{
          position: 'absolute',
          left: col === 0 ? 280 : 865,
          top: 239 + row * ROW,
          transform: 'translate(-50%, -50%)',
          whiteSpace: 'nowrap',
          fontFamily: "'Liberation Serif', 'Times New Roman', serif",
          fontSize: 29,
          color: '#000',
        }}
      >
        {p.caption}
      </div>
    </>
  )
}

export default function App() {
  return (
    <div style={{ position: 'absolute', left: 0, top: 0, width: 1140, height: 1667, background: '#fff', overflow: 'hidden' }}>
      {panels.map((p, i) => (
        <PanelChart key={i} p={p} row={Math.floor(i / 2)} col={i % 2} />
      ))}
    </div>
  )
}
